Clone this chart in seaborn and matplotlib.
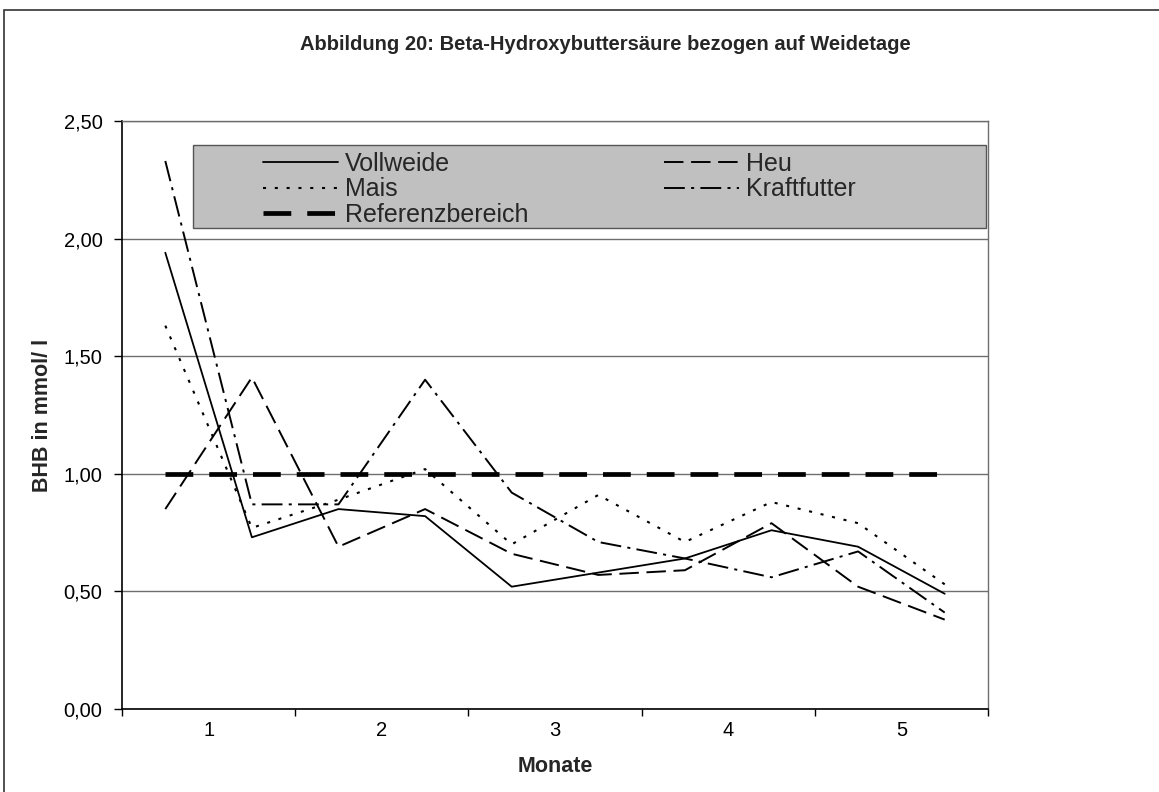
import numpy as np
import pandas as pd
import matplotlib
matplotlib.use("Agg")
import matplotlib.pyplot as plt
from matplotlib.patches import Rectangle
import seaborn as sns

# Messzeitpunkte (in Monaten, zwei Messungen je Weidemonat)
zeitpunkte = [0.75, 1.25, 1.75, 2.25, 2.75, 3.25, 3.75, 4.25, 4.75, 5.25]

# BHB-Werte in mmol/l je Fütterungsgruppe
vollweide = [1.94, 0.73, 0.85, 0.82, 0.52, 0.58, 0.64, 0.76, 0.69, 0.49]
heu = [0.85, 1.41, 0.69, 0.85, 0.66, 0.57, 0.59, 0.79, 0.52, 0.38]
mais = [1.63, 0.77, 0.89, 1.02, 0.70, 0.91, 0.71, 0.88, 0.79, 0.53]
kraftfutter = [2.33, 0.87, 0.87, 1.40, 0.92, 0.71, 0.64, 0.56, 0.67, 0.41]
referenzbereich = [1.00, 1.00, 1.00, 1.00, 1.00, 1.00, 1.00, 1.00, 1.00, 1.00]

monate = [1, 2, 3, 4, 5]
monat_labels = ["1", "2", "3", "4", "5"]
y_ticks = [0.0, 0.5, 1.0, 1.5, 2.0, 2.5]
y_labels = ["0,00", "0,50", "1,00", "1,50", "2,00", "2,50"]

titel = "Abbildung 20: Beta-Hydroxybuttersäure bezogen auf Weidetage"

sns.set_theme(style="white")
plt.rcParams["font.family"] = ["Liberation Sans", "DejaVu Sans"]
plt.rcParams["lines.scale_dashes"] = False
plt.rcParams["lines.dash_capstyle"] = "butt"

W, H = 1159, 792
fig = plt.figure(figsize=(W / 100, H / 100), dpi=100)
fig.patch.set_facecolor("white")


def fx(px):
    return px / W


def fy(py):
    return 1 - py / H


ax = fig.add_axes([fx(122), fy(709), fx(988) - fx(122), fy(121) - fy(709)])
ax.set_facecolor("white")

serien = {
    "Vollweide": (vollweide, "-", 1.3),
    "Heu": (heu, (0, (14.0, 5.5)), 1.4),
    "Mais": (mais, (0, (2.2, 6.3)), 1.5),
    "Kraftfutter": (kraftfutter, (0, (15.0, 4.5, 2.2, 4.5)), 1.4),
    "Referenzbereich": (referenzbereich, (0, (20.0, 11.5)), 3.4),
}

for name, (werte, stil, lw) in serien.items():
    df = pd.DataFrame({"Monat": zeitpunkte, "BHB": werte})
    sns.lineplot(data=df, x="Monat", y="BHB", ax=ax, color="black",
                 linewidth=lw, linestyle=stil, label=name, legend=False,
                 zorder=3)

ax.set_xlim(0.5, 5.5)
ax.set_ylim(0, 2.5)
ax.set_xticks(monate)
ax.set_xticklabels(monat_labels)
ax.set_xticks(np.arange(0.5, 5.6, 1.0), minor=True)
ax.set_yticks(y_ticks)
ax.set_yticklabels(y_labels)

ax.yaxis.grid(True, color="#6e6e6e", linewidth=1.0)
ax.xaxis.grid(False)
ax.set_axisbelow(True)

ax.tick_params(axis="x", which="major", bottom=True, length=0, pad=9,
               labelsize=14.5, labelcolor="black")
ax.tick_params(axis="x", which="minor", bottom=True, length=5, width=1,
               color="black", direction="out")
ax.tick_params(axis="y", which="major", left=True, length=6, width=1,
               color="black", direction="out", pad=8, labelsize=14.5,
               labelcolor="black")

for side in ["left", "bottom"]:
    ax.spines[side].set_color("black")
    ax.spines[side].set_linewidth(1.2)
for side in ["top", "right"]:
    ax.spines[side].set_color("#6e6e6e")
    ax.spines[side].set_linewidth(1.0)

ax.set_xlabel("")
ax.set_ylabel("")

# Legendenkasten
kasten = Rectangle((fx(193), fy(228)), fx(986) - fx(193), fy(145) - fy(228),
                   transform=fig.transFigure, facecolor="#c0c0c0",
                   edgecolor="#555555", linewidth=1.0, zorder=4)
ax.add_artist(kasten)
kasten.set_clip_on(False)

handles, labels = ax.get_legend_handles_labels()
lookup = dict(zip(labels, handles))
spalte1 = ["Vollweide", "Mais", "Referenzbereich"]
spalte2 = ["Heu", "Kraftfutter"]

leg_kw = dict(frameon=False, borderpad=0, fontsize=18, handlelength=3.0,
              handletextpad=0.27, labelspacing=0.06, loc="upper left",
              bbox_transform=fig.transFigure, borderaxespad=0)
leg1 = ax.legend([lookup[n] for n in spalte1], spalte1,
                 bbox_to_anchor=(fx(263), fy(152)), **leg_kw)
leg1.set_zorder(5)
ax.add_artist(leg1)
leg2 = ax.legend([lookup[n] for n in spalte2], spalte2,
                 bbox_to_anchor=(fx(664), fy(152)), **leg_kw)
leg2.set_zorder(5)

# Titel und Achsenbeschriftungen
fig.text(fx(605), fy(45), titel, ha="center", va="center", fontsize=14.5,
         fontweight="bold")
fig.text(fx(555), fy(767), "Monate", ha="center", va="center", fontsize=15.5,
         fontweight="bold")
fig.text(fx(43), fy(415), "BHB in mmol/ l", ha="center", va="center",
         rotation=90, fontsize=15.5, fontweight="bold")

# Rahmen des Diagrammbereichs
rahmen = Rectangle((fx(3.5), fy(H + 20)), fx(W + 40), fy(9.5) - fy(H + 20),
                   transform=fig.transFigure, facecolor="none",
                   edgecolor="#333333", linewidth=1.2)
fig.patches.append(rahmen)

fig.savefig("out.png", dpi=100, facecolor="white")
